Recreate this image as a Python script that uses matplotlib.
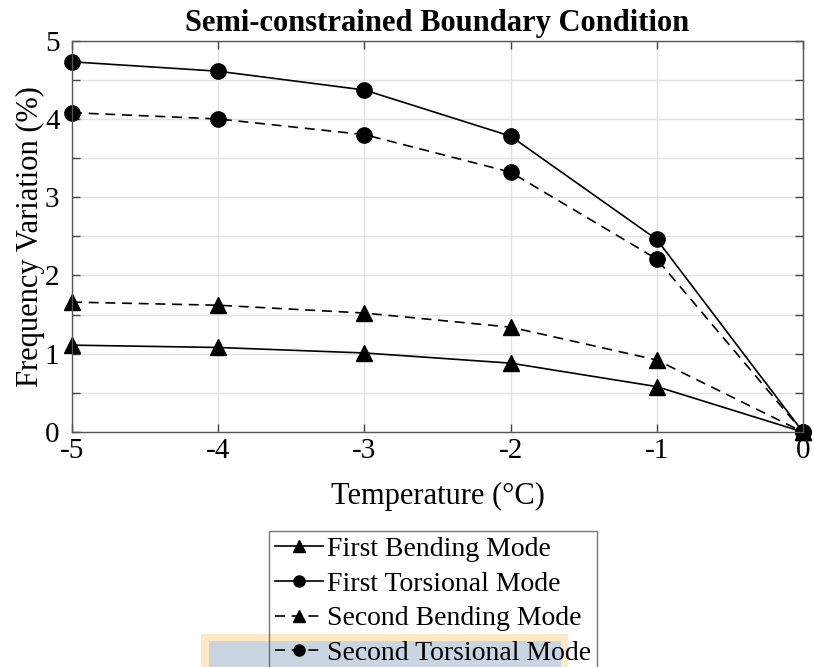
import matplotlib.pyplot as plt
import matplotlib.patches as mpatches
import numpy as np

plt.rcParams['font.family'] = ['Liberation Serif', 'DejaVu Serif']

temperature = [-5, -4, -3, -2, -1, 0]
first_bending = [1.11, 1.08, 1.01, 0.88, 0.58, 0.0]
first_torsional = [4.73, 4.61, 4.37, 3.78, 2.46, 0.0]
second_bending = [1.66, 1.62, 1.52, 1.34, 0.92, 0.0]
second_torsional = [4.08, 4.00, 3.80, 3.32, 2.21, 0.0]
labels = ['First Bending Mode', 'First Torsional Mode',
          'Second Bending Mode', 'Second Torsional Mode']

fig = plt.figure(figsize=(8.14, 6.67), dpi=100)
ax = fig.add_axes([0.0885, 0.3523, 0.898, 0.5867])

dash = (0, (6, 4))
ax.plot(temperature, first_bending, marker='^', ls='-', color='k', lw=1.2, ms=11,
        clip_on=False, label=labels[0])
ax.plot(temperature, first_torsional, marker='o', ls='-', color='k', lw=1.2, ms=11,
        clip_on=False, label=labels[1])
ax.plot(temperature, second_bending, marker='^', ls=dash, color='k', lw=1.2, ms=11,
        clip_on=False, label=labels[2])
ax.plot(temperature, second_torsional, marker='o', ls=dash, color='k', lw=1.2, ms=11,
        clip_on=False, label=labels[3])

ax.set_xlim(-5, 0)
ax.set_ylim(0, 5)
ax.set_xticks(np.arange(-5, 1, 1))
ax.set_xticklabels(['-5', '-4', '-3', '-2', '-1', '0'])
ax.set_yticks(np.arange(0, 6, 1))
ax.set_yticks(np.arange(0.5, 5, 1), minor=True)
ax.tick_params(which='both', direction='in', top=True, right=True,
               length=6, width=1, color='#444444', labelsize=21)
ax.tick_params(axis='x', pad=4)
ax.tick_params(axis='y', pad=9)
ax.grid(True, which='major', color='#e2e2e2', lw=1)
ax.grid(True, which='minor', axis='y', color='#e2e2e2', lw=1)
ax.set_axisbelow(True)
for s in ax.spines.values():
    s.set_color('#555555')
    s.set_linewidth(1)

ax.set_xlabel('Temperature (\u00b0C)', fontsize=22, labelpad=13)
ax.set_ylabel('Frequency Variation (%)', fontsize=22, labelpad=0)
ax.set_title('Semi-constrained Boundary Condition', fontsize=22,
             fontweight='bold', pad=7)

# highlight band behind last legend row
fig.patches.append(mpatches.Rectangle((201 / 814, 0), 367 / 814, 33 / 667,
                                      transform=fig.transFigure,
                                      facecolor='#fde9c4', edgecolor='none', zorder=0))
fig.patches.append(mpatches.Rectangle((209 / 814, 0), 352 / 814, 26 / 667,
                                      transform=fig.transFigure,
                                      facecolor='#c9d5e1', edgecolor='none', zorder=0))

leg = fig.legend(loc='upper left', bbox_to_anchor=(269 / 814, 1 - 531 / 667),
                 fontsize=20, frameon=True, fancybox=False, handlelength=1.75,
                 handletextpad=0.15, borderpad=0.2, labelspacing=0.33,
                 borderaxespad=0)
leg.get_frame().set_edgecolor('#555555')
leg.get_frame().set_facecolor('none')
leg.get_frame().set_linewidth(1)
for h in leg.legend_handles:
    h.set_markersize(8)

fig.savefig('out.png', dpi=100)
